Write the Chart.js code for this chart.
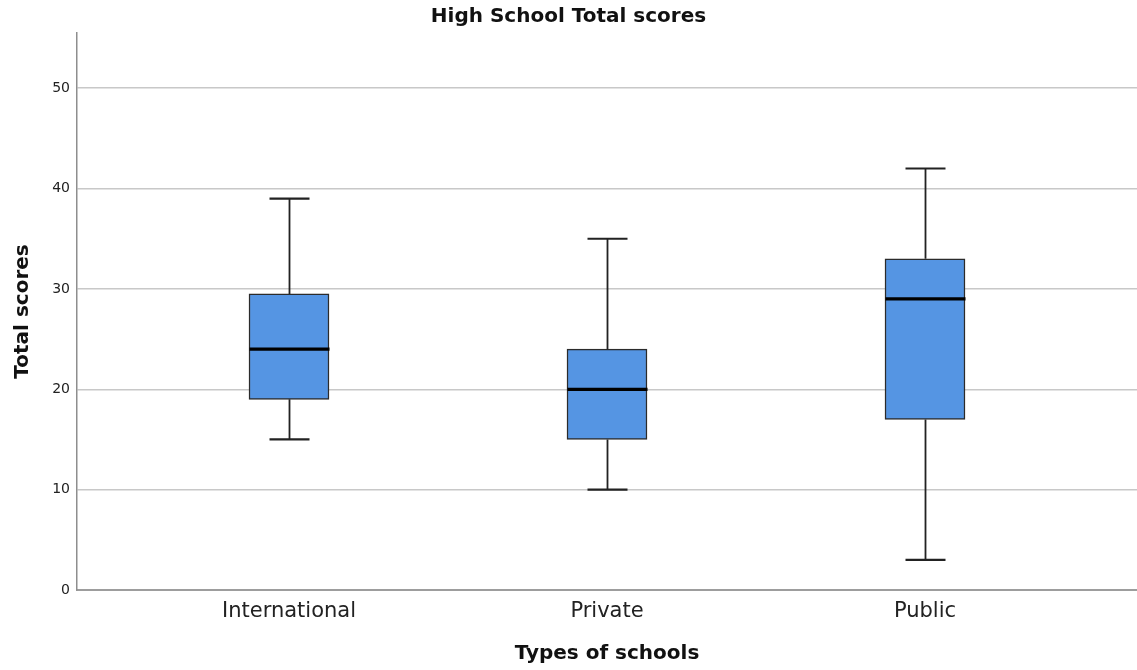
<!DOCTYPE html>
<html>
<head>
<meta charset="utf-8">
<script src="https://cdn.jsdelivr.net/npm/chart.js@4.4.1/dist/chart.umd.min.js"></script>
<style>
  html, body { margin: 0; padding: 0; background: #ffffff; }
  #wrap { width: 1137px; height: 670px; position: relative; }
</style>
</head>
<body>
<div id="wrap"><canvas id="chart"></canvas></div>
<script>
// Box-plot summary per school type
const schools = ['International', 'Private', 'Public'];
const whiskerLow = [15, 10, 3];
const quartile1 = [19, 15, 17];
const median = [24, 20, 29];
const quartile3 = [29.5, 24, 33];
const whiskerHigh = [39, 35, 42];
const yTickStep = 10;

const FONT = "'DejaVu Sans', sans-serif";

// Whiskers, caps and medians drawn on top of the floating-bar boxes
const boxPlotExtras = {
  id: 'boxPlotExtras',
  afterDatasetsDraw(chart) {
    const ctx = chart.ctx;
    const xs = chart.scales.x;
    const ys = chart.scales.y;
    const capHalf = 20;
    const boxHalf = 40;
    ctx.save();
    schools.forEach((name, i) => {
      const cx = Math.round(xs.getPixelForValue(i)) + 0.5;
      const yMin = ys.getPixelForValue(whiskerLow[i]);
      const yQ1 = ys.getPixelForValue(quartile1[i]);
      const yQ3 = ys.getPixelForValue(quartile3[i]);
      const yMax = ys.getPixelForValue(whiskerHigh[i]);
      const yMed = ys.getPixelForValue(median[i]);

      ctx.strokeStyle = '#222222';
      ctx.lineWidth = 1.8;
      ctx.beginPath();
      ctx.moveTo(cx, yQ3); ctx.lineTo(cx, yMax);
      ctx.moveTo(cx, yQ1); ctx.lineTo(cx, yMin);
      ctx.stroke();

      ctx.lineWidth = 2.2;
      ctx.beginPath();
      ctx.moveTo(cx - capHalf, yMax); ctx.lineTo(cx + capHalf, yMax);
      ctx.moveTo(cx - capHalf, yMin); ctx.lineTo(cx + capHalf, yMin);
      ctx.stroke();

      ctx.strokeStyle = '#000000';
      ctx.lineWidth = 3.2;
      ctx.beginPath();
      ctx.moveTo(cx - boxHalf, yMed); ctx.lineTo(cx + boxHalf, yMed);
      ctx.stroke();
    });
    ctx.restore();
  }
};

new Chart(document.getElementById('chart'), {
  type: 'bar',
  data: {
    datasets: [{
      data: schools.map((s, i) => ({ x: i, y: [quartile1[i], quartile3[i]] })),
      backgroundColor: '#5595e3',
      borderColor: '#2b2b2b',
      borderWidth: 1.5,
      borderSkipped: false,
      barThickness: 80
    }]
  },
  options: {
    responsive: true,
    maintainAspectRatio: false,
    animation: false,
    layout: { padding: 0 },
    plugins: {
      legend: { display: false },
      tooltip: { enabled: false },
      title: {
        display: true,
        text: 'High School Total scores',
        color: '#111111',
        font: { family: FONT, size: 20, weight: 'bold' },
        padding: { top: 5, bottom: 4 }
      }
    },
    scales: {
      x: {
        type: 'linear',
        offset: false,
        min: -2 / 3,
        max: 8 / 3,
        afterBuildTicks(axis) {
          axis.ticks = schools.map((s, i) => ({ value: i }));
        },
        afterFit(scale) { scale.height = 80; },
        grid: { display: false, drawTicks: false },
        border: { display: true, color: '#9d9d9d', width: 2 },
        ticks: {
          padding: 9,
          color: '#222222',
          font: { family: FONT, size: 21 },
          callback: (v) => schools[v]
        },
        title: {
          display: true,
          text: 'Types of schools',
          color: '#111111',
          font: { family: FONT, size: 20, weight: 'bold' },
          padding: { top: 0, bottom: 4 }
        }
      },
      y: {
        min: 0,
        max: 55.5,
        afterFit(scale) { scale.width = 77; },
        grid: { color: '#c8c8c8', lineWidth: 1.5, drawTicks: false },
        border: { display: true, color: '#8e8e8e', width: 1.5 },
        ticks: {
          stepSize: yTickStep,
          includeBounds: false,
          padding: 7,
          color: '#222222',
          font: { family: FONT, size: 14 }
        },
        title: {
          display: true,
          text: 'Total scores',
          color: '#111111',
          font: { family: FONT, size: 20, weight: 'bold' },
          padding: { top: 11, bottom: 0 }
        }
      }
    }
  },
  plugins: [boxPlotExtras]
});
</script>
</body>
</html>
